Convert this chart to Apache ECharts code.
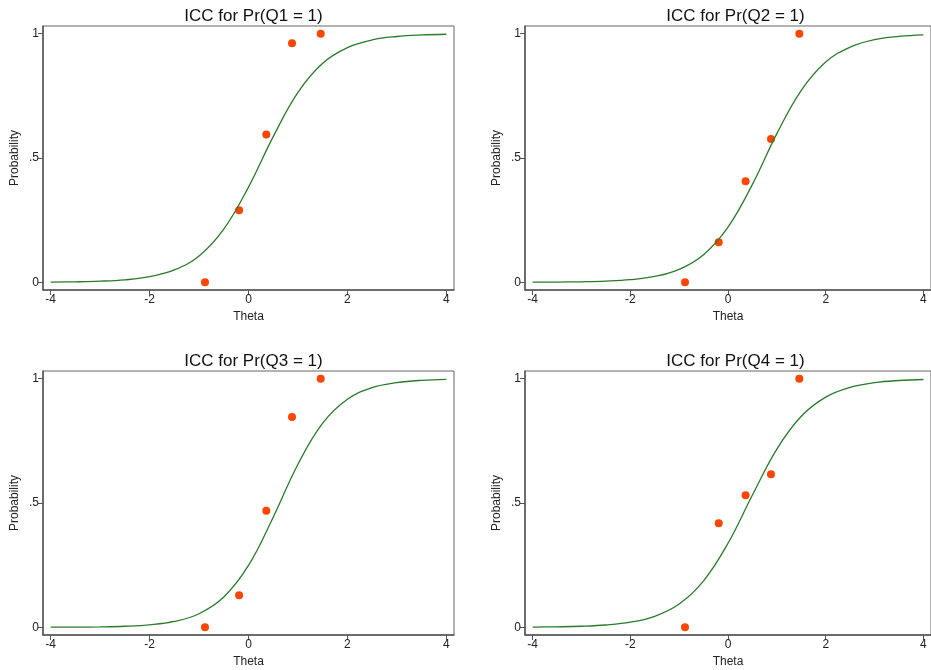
<!DOCTYPE html>
<html>
<head>
<meta charset="utf-8">
<script src="https://cdn.jsdelivr.net/npm/echarts@6/dist/echarts.min.js"></script>
<style>
  html, body { margin: 0; padding: 0; background: #fff; }
  #chart { width: 931px; height: 670px; }
</style>
</head>
<body>
<div id="chart"></div>
<script>
// panel titles
var titles = ['ICC for Pr(Q1 = 1)', 'ICC for Pr(Q2 = 1)', 'ICC for Pr(Q3 = 1)', 'ICC for Pr(Q4 = 1)'];

// theta of the observed proportions (same for every item)
var thetaObs = [-0.88, -0.19, 0.36, 0.88, 1.46];
var obsQ1 = [0, 0.29, 0.595, 0.962, 1];
var obsQ2 = [0, 0.161, 0.406, 0.576, 1];
var obsQ3 = [0, 0.129, 0.469, 0.846, 1];
var obsQ4 = [0, 0.419, 0.531, 0.616, 1];

// fitted curve, read at these theta values
var thetaCurve = [-4, -3.5, -3, -2.5, -2, -1.5, -1, -0.5, 0, 0.5, 1, 1.5, 2, 2.5, 3, 3.5, 4];
var iccQ1 = [0.0008, 0.0019, 0.0044, 0.0099, 0.0224, 0.0496, 0.106, 0.214, 0.383, 0.586, 0.764, 0.881, 0.944, 0.975, 0.9887, 0.995, 0.9978];
var iccQ2 = [0.0004, 0.0009, 0.002, 0.0046, 0.0104, 0.0234, 0.052, 0.111, 0.222, 0.394, 0.598, 0.772, 0.886, 0.946, 0.976, 0.989, 0.9952];
var iccQ3 = [0.0003, 0.0007, 0.0017, 0.0042, 0.0099, 0.0235, 0.0546, 0.122, 0.249, 0.443, 0.656, 0.821, 0.917, 0.964, 0.984, 0.9935, 0.9973];
var iccQ4 = [0.0008, 0.0019, 0.0042, 0.0093, 0.0204, 0.0443, 0.0935, 0.187, 0.338, 0.532, 0.717, 0.849, 0.926, 0.965, 0.984, 0.9928, 0.9968];

// tick labels
var xTicks = [-4, -2, 0, 2, 4];
var yTicks = [0, 0.5, 1];
var yTickLabels = ['0', '.5', '1'];

var obsAll = [obsQ1, obsQ2, obsQ3, obsQ4];
var iccAll = [iccQ1, iccQ2, iccQ3, iccQ4];

var gridPos = [
  { left: 43, top: 26 },
  { left: 525, top: 26 },
  { left: 43, top: 371 },
  { left: 525, top: 371 }
];
var gw = 411, gh = 264;

function zip(xs, ys) {
  return xs.map(function (x, i) { return [x, ys[i]]; });
}

var chart = echarts.init(document.getElementById('chart'));

var option = {
  backgroundColor: '#fff',
  animation: false,
  title: [],
  grid: [],
  xAxis: [],
  yAxis: [],
  series: []
};

for (var k = 0; k < 4; k++) {
  var g = gridPos[k];
  option.title.push({
    text: titles[k],
    left: g.left + gw / 2,
    top: g.top - 23,
    textAlign: 'center',
    textStyle: { fontFamily: 'Liberation Sans', fontSize: 17, fontWeight: 'normal', color: '#111' }
  });
  option.grid.push({
    left: g.left, top: g.top, width: gw, height: gh,
    show: true, borderColor: '#666', borderWidth: 1
  });
  option.xAxis.push({
    type: 'value', gridIndex: k, min: -4.155, max: 4.155,
    name: 'Theta', nameLocation: 'middle', nameGap: 21,
    nameTextStyle: { fontFamily: 'Liberation Sans', fontSize: 12, color: '#222' },
    axisLine: { show: true, onZero: false, lineStyle: { color: '#555', width: 1.5 } },
    axisTick: { show: true, length: 5, lineStyle: { color: '#555' }, customValues: xTicks },
    axisLabel: { fontFamily: 'Liberation Sans', fontSize: 12, color: '#222', margin: 4, customValues: xTicks },
    splitLine: { show: false }
  });
  option.yAxis.push({
    type: 'value', gridIndex: k, min: -0.031, max: 1.031,
    name: 'Probability', nameLocation: 'middle', nameGap: 22,
    nameTextStyle: { fontFamily: 'Liberation Sans', fontSize: 12, color: '#222' },
    axisLine: { show: true, onZero: false, lineStyle: { color: '#555', width: 1.5 } },
    axisTick: { show: true, length: 5, lineStyle: { color: '#555' }, customValues: yTicks },
    axisLabel: {
      fontFamily: 'Liberation Sans', fontSize: 12, color: '#222', margin: 4,
      customValues: yTicks,
      formatter: function (v) {
        var i = yTicks.indexOf(v);
        return i >= 0 ? yTickLabels[i] : '';
      }
    },
    splitLine: { show: false }
  });
  option.series.push({
    type: 'line', xAxisIndex: k, yAxisIndex: k,
    data: zip(thetaCurve, iccAll[k]),
    smooth: 0.4, showSymbol: false,
    lineStyle: { color: '#2b7a2b', width: 1.3 },
    silent: true
  });
  option.series.push({
    type: 'scatter', xAxisIndex: k, yAxisIndex: k,
    data: zip(thetaObs, obsAll[k]),
    symbolSize: 8,
    itemStyle: { color: '#ff4500', opacity: 1 }
  });
}

chart.setOption(option);
</script>
</body>
</html>
